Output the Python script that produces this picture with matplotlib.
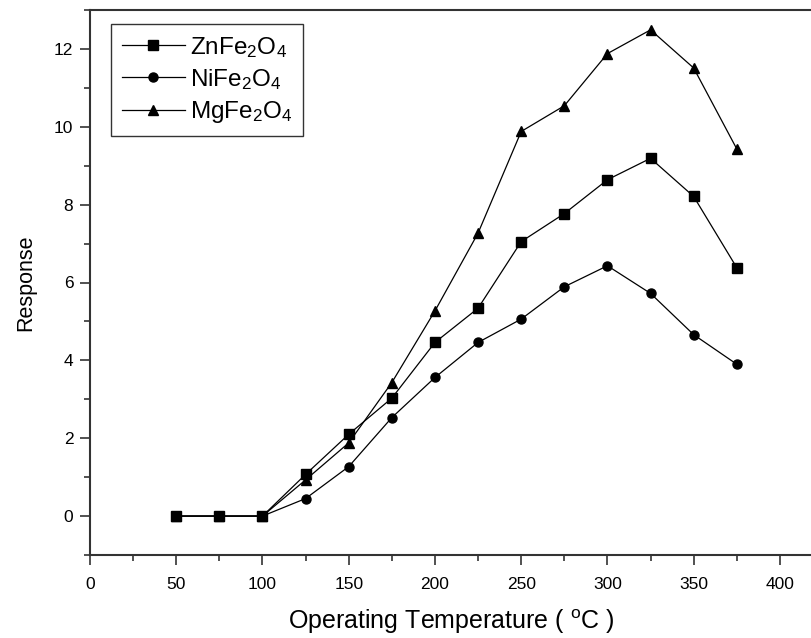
import matplotlib
matplotlib.use('Agg')
import matplotlib.pyplot as plt
from matplotlib.ticker import MultipleLocator

plt.rcParams['font.family'] = ['Liberation Sans', 'DejaVu Sans']
plt.rcParams['mathtext.fontset'] = 'custom'
plt.rcParams['mathtext.rm'] = 'Liberation Sans'
plt.rcParams['mathtext.it'] = 'Liberation Sans'

temperature = [50, 75, 100, 125, 150, 175, 200, 225, 250, 275, 300, 325, 350, 375]
zn_ferrite = [0, 0, 0, 1.07, 2.1, 3.03, 4.46, 5.34, 7.05, 7.77, 8.64, 9.19, 8.21, 6.38]
ni_ferrite = [0, 0, 0, 0.45, 1.27, 2.53, 3.56, 4.46, 5.06, 5.89, 6.43, 5.72, 4.66, 3.9]
mg_ferrite = [0, 0, 0, 0.93, 1.88, 3.43, 5.27, 7.27, 9.88, 10.54, 11.88, 12.49, 11.51, 9.43]

labels = [r'ZnFe$_\mathregular{2}$O$_\mathregular{4}$',
          r'NiFe$_\mathregular{2}$O$_\mathregular{4}$',
          r'MgFe$_\mathregular{2}$O$_\mathregular{4}$']

fig = plt.figure(figsize=(8.12, 6.38), dpi=100)
ax = fig.add_axes([90 / 812, 83 / 638, 722 / 812, 545 / 638])

ax.plot(temperature, zn_ferrite, 'k-', marker='s', ms=6.5, lw=0.9, label=labels[0])
ax.plot(temperature, ni_ferrite, 'k-', marker='o', ms=6.5, lw=0.9, label=labels[1])
ax.plot(temperature, mg_ferrite, 'k-', marker='^', ms=7.5, lw=0.9, label=labels[2])

ax.set_xlim(0, 418.6)
ax.set_ylim(-1, 13)
ax.xaxis.set_major_locator(MultipleLocator(50))
ax.xaxis.set_minor_locator(MultipleLocator(25))
ax.yaxis.set_major_locator(MultipleLocator(2))
ax.yaxis.set_minor_locator(MultipleLocator(1))
ax.tick_params(which='major', direction='out', length=7, width=1.2, labelsize=12.5,
               color='#333333', pad=5)
ax.tick_params(which='minor', direction='out', length=4, width=1.2, color='#333333')
ax.tick_params(axis='x', pad=9)
ax.spines['right'].set_visible(False)
for side in ['left', 'bottom', 'top']:
    ax.spines[side].set_color('#333333')
    ax.spines[side].set_linewidth(1.5)

ax.set_xlabel('Operating Temperature ( $^\\mathregular{o}$C )', fontsize=18, labelpad=11)
ax.set_ylabel('Response', fontsize=15.5, labelpad=13)

leg = ax.legend(loc='upper left', bbox_to_anchor=(0.012, 0.997), fontsize=17.5,
                frameon=True, fancybox=False, edgecolor='black', handlelength=2.6,
                labelspacing=0.3, borderpad=0.45, handletextpad=0.2)
leg.get_frame().set_linewidth(1.0)

fig.savefig('out.png', dpi=100)
